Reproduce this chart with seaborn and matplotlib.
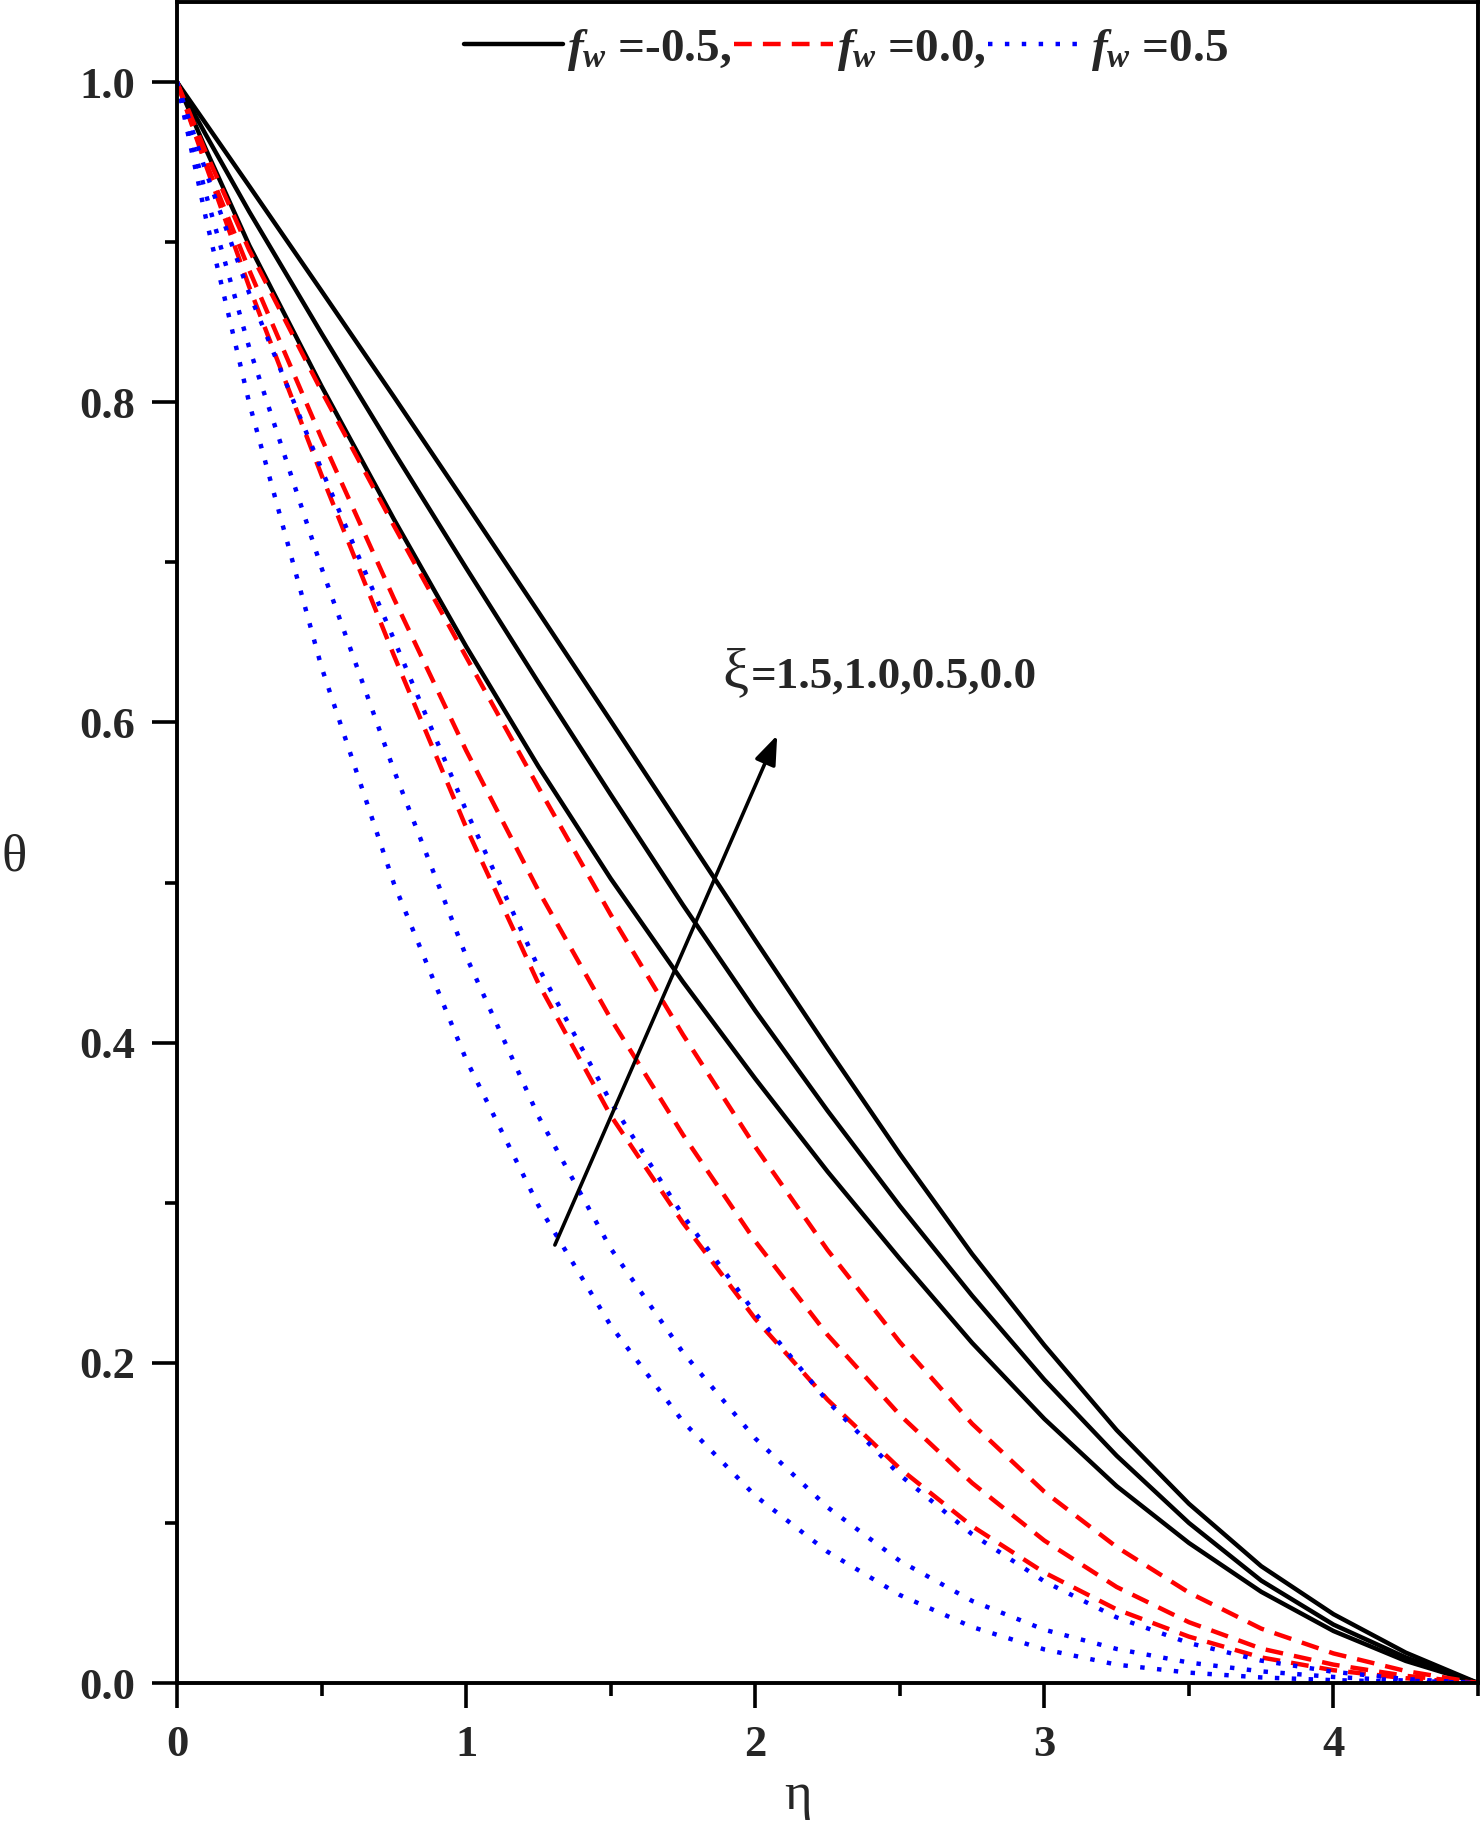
import pandas as pd
import seaborn as sns
import matplotlib.pyplot as plt
from matplotlib.lines import Line2D
from matplotlib.ticker import MultipleLocator, FormatStrFormatter

# eta grid
eta = [0.0, 0.1, 0.25, 0.5, 0.75, 1.0, 1.25, 1.5, 1.75, 2.0,
       2.25, 2.5, 2.75, 3.0, 3.25, 3.5, 3.75, 4.0, 4.25, 4.5]

# f_w = -0.5 (solid black), outer -> inner
black_1 = [1.0, 0.974, 0.935, 0.8695, 0.8035, 0.7365, 0.669, 0.601, 0.5325, 0.464,
           0.3965, 0.3305, 0.268, 0.211, 0.158, 0.112, 0.073, 0.043, 0.019, 0.0]
black_2 = [1.0, 0.967, 0.919, 0.843, 0.769, 0.6965, 0.625, 0.555, 0.486, 0.420,
           0.3575, 0.298, 0.242, 0.1895, 0.142, 0.100, 0.064, 0.0365, 0.016, 0.0]
black_3 = [1.0, 0.958, 0.898, 0.810, 0.727, 0.6475, 0.5725, 0.5025, 0.438, 0.3775,
           0.3195, 0.265, 0.2125, 0.165, 0.123, 0.0875, 0.057, 0.0325, 0.0138, 0.0]

# f_w = 0.0 (dashed red), outer -> inner
red_1 = [1.0, 0.956, 0.895, 0.807, 0.723, 0.641, 0.5595, 0.480, 0.405, 0.335,
         0.2705, 0.213, 0.162, 0.1195, 0.085, 0.0565, 0.034, 0.0185, 0.0075, 0.0]
red_2 = [1.0, 0.950, 0.8825, 0.7775, 0.6775, 0.5825, 0.495, 0.415, 0.3425, 0.276,
         0.2175, 0.1675, 0.125, 0.089, 0.060, 0.038, 0.0215, 0.0115, 0.0045, 0.0]
red_3 = [1.0, 0.948, 0.872, 0.7545, 0.642, 0.5345, 0.437, 0.3545, 0.2875, 0.2275,
         0.177, 0.134, 0.098, 0.069, 0.046, 0.029, 0.016, 0.008, 0.003, 0.0]

# f_w = 0.5 (dotted blue), outer -> inner
blue_1 = [1.0, 0.944, 0.868, 0.758, 0.652, 0.545, 0.447, 0.363, 0.292, 0.231,
          0.176, 0.130, 0.093, 0.0635, 0.041, 0.025, 0.014, 0.007, 0.0025, 0.0]
blue_2 = [1.0, 0.930, 0.834, 0.6965, 0.5703, 0.454, 0.354, 0.2715, 0.2065, 0.1528,
          0.1098, 0.0763, 0.0513, 0.0333, 0.0213, 0.0128, 0.0073, 0.0038, 0.0015, 0.0]
blue_3 = [1.0, 0.915, 0.7995, 0.6345, 0.4995, 0.3895, 0.2983, 0.2233, 0.1633, 0.117,
          0.082, 0.055, 0.035, 0.021, 0.0115, 0.0065, 0.0035, 0.0018, 0.0008, 0.0]

fw_levels = ["-0.5", "0.0", "0.5"]
fw_colors = {"-0.5": "black", "0.0": "#ff0000", "0.5": "#0000ff"}
fw_dashes = {"-0.5": "", "0.0": (4.0, 2.5), "0.5": (1.0, 2.8)}

curves = {
    ("-0.5", "a"): black_1, ("-0.5", "b"): black_2, ("-0.5", "c"): black_3,
    ("0.0", "a"): red_1, ("0.0", "b"): red_2, ("0.0", "c"): red_3,
    ("0.5", "a"): blue_1, ("0.5", "b"): blue_2, ("0.5", "c"): blue_3,
}
rows = []
for (fw, k), vals in curves.items():
    for e, t in zip(eta, vals):
        rows.append({"eta": e, "theta": t, "fw": fw, "curve": fw + k})
df = pd.DataFrame(rows)

sns.set_theme(style="ticks")
plt.rcParams["font.family"] = ["Liberation Serif", "DejaVu Serif"]
plt.rcParams["mathtext.fontset"] = "custom"
plt.rcParams["mathtext.rm"] = "Liberation Serif"
plt.rcParams["mathtext.it"] = "Liberation Serif:italic:bold"
plt.rcParams["mathtext.bf"] = "Liberation Serif:bold"

fig = plt.figure(figsize=(14.81, 18.28), dpi=100)
ax = fig.add_axes([0.1195, 0.0793, 0.8785, 0.9196])

lw = 3.2
sns.lineplot(data=df, x="eta", y="theta", hue="fw", style="fw", units="curve",
             estimator=None, sort=False, hue_order=fw_levels, style_order=fw_levels,
             palette=fw_colors, dashes=fw_dashes, linewidth=lw, legend=False, ax=ax)

ax.set_xlim(0, 4.5)
ax.set_ylim(0, 1.05)
ax.xaxis.set_major_locator(MultipleLocator(1))
ax.xaxis.set_minor_locator(MultipleLocator(0.5))
ax.yaxis.set_major_locator(MultipleLocator(0.2))
ax.yaxis.set_minor_locator(MultipleLocator(0.1))
ax.yaxis.set_major_formatter(FormatStrFormatter("%.1f"))
ax.tick_params(which="major", direction="out", length=18, width=2.6,
               labelsize=32, pad=12, color="black")
ax.tick_params(which="minor", direction="out", length=9, width=2.6, color="black")
for lbl in ax.get_xticklabels() + ax.get_yticklabels():
    lbl.set_fontweight("bold")
for sp in ax.spines.values():
    sp.set_linewidth(2.8)
    sp.set_color("black")

ax.set_xlabel("η", fontsize=38, fontweight="normal", va="center")
ax.set_ylabel("θ", fontsize=38, fontweight="normal", rotation=0, va="center", ha="center")
ax.xaxis.set_label_coords(0.477, -0.067)
ax.yaxis.set_label_coords(-0.125, 0.491)

# arrow and xi annotation
ax.annotate("", xy=(2.076, 0.592), xytext=(1.307, 0.2736),
            arrowprops=dict(arrowstyle="-|>,head_length=0.8,head_width=0.3",
                            lw=2.6, color="black", mutation_scale=22,
                            shrinkA=0, shrinkB=0))
ax.text(1.888, 0.622, "ξ", fontsize=42, fontweight="normal", ha="left", va="baseline")
ax.text(1.983, 0.622, "=1.5,1.0,0.5,0.0", fontsize=32.5, fontweight="bold",
        ha="left", va="baseline")

handles = [Line2D([], [], color=fw_colors[f], lw=lw,
                  dashes=fw_dashes[f] if fw_dashes[f] else (None, None))
           for f in fw_levels]
handles[0].set_linestyle("-")
labels = [r"$f_w$ =-0.5,", r"$f_w$ =0.0,", r"$f_w$ =0.5"]
fig.legend(handles, labels, loc="center left",
           bbox_to_anchor=(464 / 1481, 1 - 50 / 1828), bbox_transform=fig.transFigure,
           ncol=3, frameon=False, borderpad=0, borderaxespad=0,
           handlelength=2.1, handletextpad=0.08, columnspacing=0.05,
           prop={"family": "Liberation Serif", "weight": "bold", "size": 34})

fig.savefig("out.png", dpi=100, facecolor="white")
